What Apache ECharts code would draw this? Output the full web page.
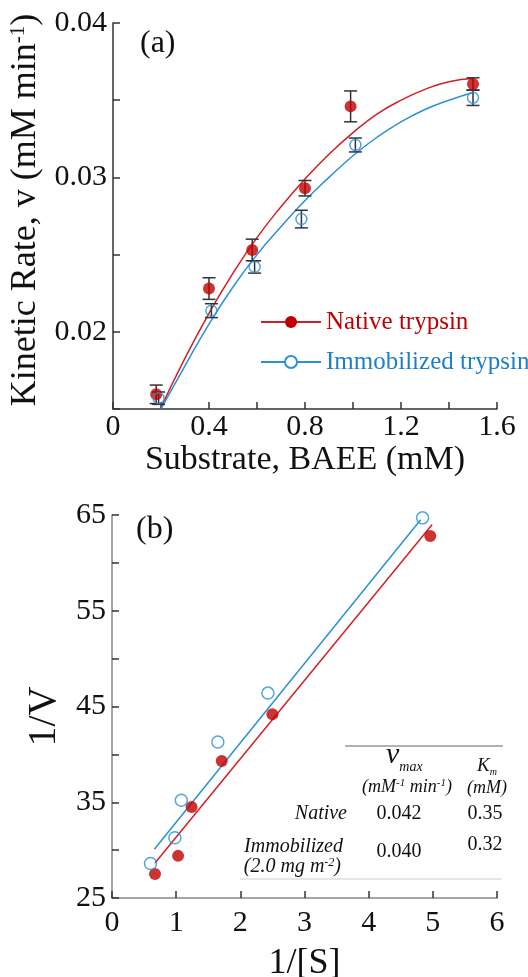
<!DOCTYPE html>
<html>
<head>
<meta charset="utf-8">
<title>Trypsin kinetics</title>
<script src="https://cdn.jsdelivr.net/npm/echarts@6/dist/echarts.min.js"></script>
<style>
  html, body { margin: 0; padding: 0; background: #fff; }
  #chart { width: 528px; height: 977px; }
</style>
</head>
<body>
<div id="chart"></div>
<script>
// (a) Michaelis–Menten data: substrate (mM) vs. kinetic rate (mM min^-1)
const nativeS = [0.18, 0.40, 0.58, 0.80, 0.99, 1.50];
const nativeRate = [0.01595, 0.0228, 0.0253, 0.0293, 0.0346, 0.03605];
const nativeErr = [0.0006, 0.0007, 0.0007, 0.0005, 0.0010, 0.0004];

const immobS = [0.19, 0.41, 0.59, 0.785, 1.01, 1.50];
const immobRate = [0.0157, 0.02137, 0.0242, 0.0273, 0.0321, 0.03516];
const immobErr = [0.0004, 0.00045, 0.0004, 0.00057, 0.00045, 0.0005];

// fitted curves
const fitS = [0.2, 0.3, 0.4, 0.5, 0.6, 0.7, 0.8, 0.9, 1.0, 1.1, 1.2, 1.3, 1.4, 1.5];
const nativeFit = [0.0151, 0.0183, 0.0212, 0.0238, 0.0261, 0.0281, 0.0299, 0.0315, 0.0329, 0.0341, 0.0350, 0.0357, 0.0362, 0.0364];
const immobFit = [0.0150, 0.0178, 0.0205, 0.0229, 0.0250, 0.0268, 0.0285, 0.0300, 0.0314, 0.0326, 0.0336, 0.0344, 0.0350, 0.0355];

// (b) Lineweaver–Burk data: 1/[S] vs. 1/v
const nativeInvS = [0.67, 1.03, 1.24, 1.71, 2.50, 4.96];
const nativeInvV = [27.5, 29.4, 34.5, 39.3, 44.2, 62.8];
const immobInvS = [0.60, 0.98, 1.08, 1.65, 2.43, 4.84];
const immobInvV = [28.6, 31.3, 35.2, 41.3, 46.4, 64.7];

// linear regression lines (end points)
const nativeLineX = [0.67, 4.99];
const nativeLineY = [28.65, 64.0];
const immobLineX = [0.66, 4.81];
const immobLineY = [30.1, 64.5];

// kinetic constants table
const tableRows = ['Native', 'Immobilized'];
const vmaxValues = ['0.042', '0.040'];
const kmValues = ['0.35', '0.32'];

const RED = '#c00000';
const RED_LINE = '#d21f26';
const BLUE = '#1d80c6';
const BLUE_LINE = '#2b90d4';
const FONT = '"Liberation Serif", "Times New Roman", serif';

const zip = (xs, ys, es) => xs.map((x, i) => es ? [x, ys[i], es[i]] : [x, ys[i]]);

function errorBarItem(params, api) {
  const x = api.value(0), y = api.value(1), e = api.value(2);
  const top = api.coord([x, y + e]);
  const bot = api.coord([x, y - e]);
  const half = 6.5;
  const style = { stroke: '#333', lineWidth: 1.5 };
  return {
    type: 'group',
    children: [
      { type: 'line', shape: { x1: top[0], y1: top[1], x2: bot[0], y2: bot[1] }, style },
      { type: 'line', shape: { x1: top[0] - half, y1: top[1], x2: top[0] + half, y2: top[1] }, style },
      { type: 'line', shape: { x1: bot[0] - half, y1: bot[1], x2: bot[0] + half, y2: bot[1] }, style }
    ]
  };
}

const chart = echarts.init(document.getElementById('chart'), null, { renderer: 'canvas' });

const axisCommon = (color) => ({
  axisLine: { show: true, onZero: false, lineStyle: { color, width: 1.5 } },
  axisTick: { show: true, inside: true, length: 7, lineStyle: { color: '#333', width: 1.5 } },
  splitLine: { show: false },
  axisLabel: { fontFamily: FONT, fontSize: 30, color: '#111' },
  nameTextStyle: { fontFamily: FONT, color: '#111' }
});

const topX = axisCommon('#333');
const topY = axisCommon('#333');
const botX = axisCommon('#888');
const botY = axisCommon('#888');

const option = {
  animation: false,
  backgroundColor: '#fff',
  grid: [
    { left: 113, top: 23, width: 384, height: 386, containLabel: false, outerBoundsMode: 'none' },
    { left: 112, top: 515, width: 385, height: 383, containLabel: false, outerBoundsMode: 'none' }
  ],
  xAxis: [
    Object.assign({}, topX, {
      type: 'value', gridIndex: 0, min: 0, max: 1.6, interval: 0.2,
      name: 'Substrate, BAEE (mM)', nameLocation: 'middle', nameGap: 26,
      nameTextStyle: { fontFamily: FONT, fontSize: 34, color: '#111' },
      axisLabel: Object.assign({}, topX.axisLabel, {
        margin: 3,
        formatter: v => {
          const k = Math.round(v / 0.2);
          if (k % 2) return '';
          return k === 0 ? '0' : (k * 0.2).toFixed(1);
        }
      })
    }),
    Object.assign({}, botX, {
      type: 'value', gridIndex: 1, min: 0, max: 6, interval: 1,
      name: '1/[S]', nameLocation: 'middle', nameGap: 48,
      nameTextStyle: { fontFamily: FONT, fontSize: 36, color: '#111' },
      axisLabel: Object.assign({}, botX.axisLabel, { margin: 10 })
    })
  ],
  yAxis: [
    Object.assign({}, topY, {
      type: 'value', gridIndex: 0, min: 0.015, max: 0.04, interval: 0.005,
      name: 'Kinetic Rate, v (mM min{sup|-1})', nameLocation: 'middle', nameGap: 67,
      nameTextStyle: {
        fontFamily: FONT, fontSize: 36, color: '#111', lineHeight: 36,
        padding: [0, 0, 0, 12],
        rich: { sup: { fontFamily: FONT, fontSize: 21, color: '#111', verticalAlign: 'top', lineHeight: 21 } }
      },
      axisLabel: Object.assign({}, topY.axisLabel, {
        margin: 6,
        formatter: v => {
          const k = Math.round(v / 0.005);
          return k % 2 ? '' : (k * 0.005).toFixed(2);
        }
      })
    }),
    Object.assign({}, botY, {
      type: 'value', gridIndex: 1, min: 25, max: 65, interval: 5,
      name: '1/V', nameLocation: 'middle', nameGap: 48,
      nameTextStyle: { fontFamily: FONT, fontSize: 40, color: '#111', padding: [0, 20, 0, 0] },
      axisLabel: Object.assign({}, botY.axisLabel, {
        margin: 6,
        formatter: v => ((Math.round(v) - 25) % 10 === 0 ? String(Math.round(v)) : '')
      })
    })
  ],
  legend: {
    selectedMode: false,
    orient: 'vertical',
    left: 255,
    top: 303,
    itemWidth: 60,
    itemHeight: 15,
    itemGap: 12,
    textStyle: { fontFamily: FONT, fontSize: 25, lineHeight: 28 },
    data: [
      { name: 'Native trypsin', textStyle: { color: RED }, itemStyle: { color: RED } },
      { name: 'Immobilized trypsin', textStyle: { color: BLUE }, itemStyle: { color: BLUE_LINE } }
    ]
  },
  series: [
    // (a) fitted curves
    {
      name: 'Native trypsin', type: 'line', xAxisIndex: 0, yAxisIndex: 0,
      data: zip(fitS, nativeFit), smooth: true, symbol: 'circle', showSymbol: false,
      lineStyle: { color: RED_LINE, width: 1.5 }, itemStyle: { color: RED }, z: 2
    },
    {
      name: 'Immobilized trypsin', type: 'line', xAxisIndex: 0, yAxisIndex: 0,
      data: zip(fitS, immobFit), smooth: true, symbol: 'emptyCircle', showSymbol: false,
      lineStyle: { color: BLUE_LINE, width: 1.5 }, itemStyle: { color: BLUE_LINE }, z: 2
    },
    // (a) error bars
    {
      name: 'Native error', type: 'custom', xAxisIndex: 0, yAxisIndex: 0,
      data: zip(nativeS, nativeRate, nativeErr), renderItem: errorBarItem,
      encode: { x: 0, y: 1 }, z: 3
    },
    {
      name: 'Immobilized error', type: 'custom', xAxisIndex: 0, yAxisIndex: 0,
      data: zip(immobS, immobRate, immobErr), renderItem: errorBarItem,
      encode: { x: 0, y: 1 }, z: 3
    },
    // (a) measured points
    {
      name: 'Native trypsin', type: 'scatter', xAxisIndex: 0, yAxisIndex: 0,
      data: zip(nativeS, nativeRate), symbol: 'circle', symbolSize: 12,
      itemStyle: { color: RED }, z: 4
    },
    {
      name: 'Immobilized trypsin', type: 'scatter', xAxisIndex: 0, yAxisIndex: 0,
      data: zip(immobS, immobRate), symbol: 'circle', symbolSize: 11,
      itemStyle: { color: 'rgba(255,255,255,0)', borderColor: BLUE_LINE, borderWidth: 1.5 }, z: 4
    },
    // (b) regression lines
    {
      name: 'Native 1/v fit', type: 'line', xAxisIndex: 1, yAxisIndex: 1,
      data: zip(nativeLineX, nativeLineY), symbol: 'none',
      lineStyle: { color: RED_LINE, width: 1.5 }, z: 2
    },
    {
      name: 'Immobilized 1/v fit', type: 'line', xAxisIndex: 1, yAxisIndex: 1,
      data: zip(immobLineX, immobLineY), symbol: 'none',
      lineStyle: { color: BLUE_LINE, width: 1.5 }, z: 2
    },
    // (b) points
    {
      name: 'Native 1/v', type: 'scatter', xAxisIndex: 1, yAxisIndex: 1,
      data: zip(nativeInvS, nativeInvV), symbol: 'circle', symbolSize: 12,
      itemStyle: { color: RED }, z: 4
    },
    {
      name: 'Immobilized 1/v', type: 'scatter', xAxisIndex: 1, yAxisIndex: 1,
      data: zip(immobInvS, immobInvV), symbol: 'circle', symbolSize: 12,
      itemStyle: { color: 'rgba(255,255,255,0)', borderColor: BLUE_LINE, borderWidth: 1.5 }, z: 4
    }
  ],
  graphic: [
    { type: 'text', left: 140, top: 28, style: { text: '(a)', font: '32px ' + FONT, fill: '#111' } },
    { type: 'text', left: 136, top: 514, style: { text: '(b)', font: '32px ' + FONT, fill: '#111' } },
    // table rules
    { type: 'line', shape: { x1: 345, y1: 746, x2: 503, y2: 746 }, style: { stroke: '#666', lineWidth: 1 } },
    { type: 'line', shape: { x1: 240, y1: 879, x2: 502, y2: 879 }, style: { stroke: '#ccc', lineWidth: 1 } },
    // column headers
    {
      type: 'text', x: 386, y: 757,
      style: {
        text: '{v|v}{sub|max}', align: 'left', verticalAlign: 'middle',
        rich: {
          v: { font: 'italic 30px ' + FONT, fill: '#111', lineHeight: 26, verticalAlign: 'bottom' },
          sub: { font: 'italic 14px ' + FONT, fill: '#111', lineHeight: 14, verticalAlign: 'bottom', padding: [0, 0, -4, 0] }
        }
      }
    },
    {
      type: 'text', x: 407, y: 787,
      style: {
        text: '(mM{s|-1} min{s|-1})', align: 'center', verticalAlign: 'middle',
        font: 'italic 18px ' + FONT, fill: '#111',
        rich: { s: { font: 'italic 11px ' + FONT, fill: '#111', verticalAlign: 'top', lineHeight: 11 } }
      }
    },
    {
      type: 'text', x: 477, y: 766,
      style: {
        text: '{k|K}{sub|m}', align: 'left', verticalAlign: 'middle',
        rich: {
          k: { font: 'italic 19px ' + FONT, fill: '#111', lineHeight: 19, verticalAlign: 'bottom' },
          sub: { font: 'italic 10px ' + FONT, fill: '#111', lineHeight: 10, verticalAlign: 'bottom', padding: [0, 0, -2, 0] }
        }
      }
    },
    { type: 'text', x: 487, y: 788, style: { text: '(mM)', align: 'center', verticalAlign: 'middle', font: 'italic 18px ' + FONT, fill: '#111' } },
    // rows
    { type: 'text', x: 347, y: 814, style: { text: tableRows[0], align: 'right', verticalAlign: 'middle', font: 'italic 20px ' + FONT, fill: '#111' } },
    { type: 'text', x: 343, y: 847, style: { text: tableRows[1], align: 'right', verticalAlign: 'middle', font: 'italic 20px ' + FONT, fill: '#111' } },
    {
      type: 'text', x: 341, y: 867,
      style: {
        text: '(2.0 mg m{s|-2})', align: 'right', verticalAlign: 'middle',
        font: 'italic 20px ' + FONT, fill: '#111',
        rich: { s: { font: 'italic 12px ' + FONT, fill: '#111', verticalAlign: 'top', lineHeight: 12 } }
      }
    },
    { type: 'text', x: 399, y: 814, style: { text: vmaxValues[0], align: 'center', verticalAlign: 'middle', font: '20px ' + FONT, fill: '#111' } },
    { type: 'text', x: 399, y: 852, style: { text: vmaxValues[1], align: 'center', verticalAlign: 'middle', font: '20px ' + FONT, fill: '#111' } },
    { type: 'text', x: 485, y: 814, style: { text: kmValues[0], align: 'center', verticalAlign: 'middle', font: '20px ' + FONT, fill: '#111' } },
    { type: 'text', x: 485, y: 845, style: { text: kmValues[1], align: 'center', verticalAlign: 'middle', font: '20px ' + FONT, fill: '#111' } }
  ]
};

chart.setOption(option);
</script>
</body>
</html>
